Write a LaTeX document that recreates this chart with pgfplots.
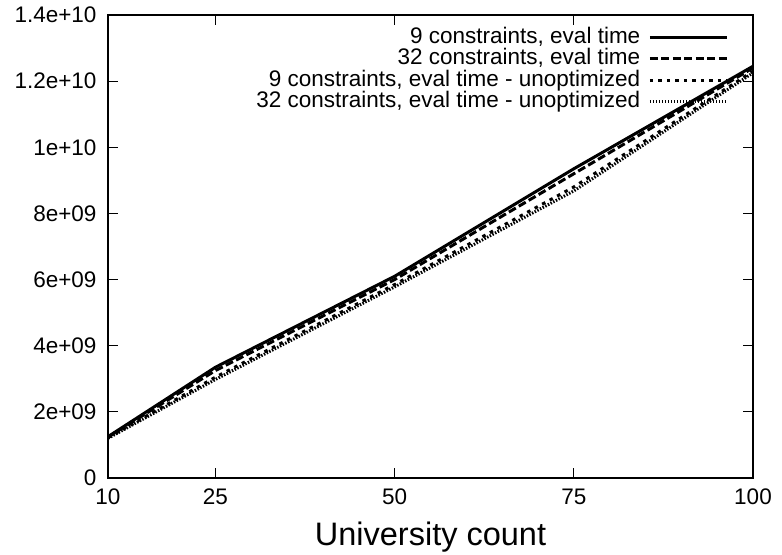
\documentclass[border=0pt]{standalone}
\usepackage{fontspec}
\setmainfont{Liberation Sans}
\usepackage{pgfplots}
\pgfplotsset{compat=1.18}
\pgfplotsset{
  gp legend/.style={legend image code/.code={\draw[##1] (0pt,0pt) -- (77pt,0pt);}},
}
\begin{document}
\begin{tikzpicture}
\begin{axis}[
  scale only axis, width=645pt, height=463pt,
  xmin=10, xmax=100, ymin=0, ymax=1.4e10,
  xtick={10,25,50,75,100}, xticklabels={10,25,50,75,100},
  ytick={0,2e9,4e9,6e9,8e9,1e10,1.2e10,1.4e10},
  yticklabels={0,2e+09,4e+09,6e+09,8e+09,1e+10,1.2e+10,1.4e+10},
  scaled y ticks=false,
  tick label style={font=\fontsize{22.5}{24}\selectfont},
  xticklabel style={yshift=-7.5pt},
  yticklabel style={xshift=-8pt},
  xlabel={University count},
  xlabel style={font=\fontsize{32.5}{34}\selectfont, at={(axis description cs:0.5,0)}, anchor=base, yshift=-67pt},
  axis line style={line width=1.5pt},
  major tick style={line width=1pt, black}, major tick length=10pt,
  gp legend,
  legend cell align=right, legend plot pos=right,
  legend style={draw=none, fill=none, at={(axis description cs:0.962,0.974)}, anchor=north east,
    inner sep=0pt, font=\fontsize{22.5}{24}\selectfont,
    nodes={inner xsep=3pt, inner ysep=0pt, text height=16pt, text depth=4.7pt},
    column sep=5pt, row sep=0.7pt},
]
\addplot[black, line width=3pt] coordinates {(10,1.25e9) (25,3.35e9) (50,6.1e9) (75,9.35e9) (100,1.245e10)};
\addlegendentry{9 constraints, eval time}
\addplot[black, line width=3pt, dash pattern=on 8pt off 3.5pt] coordinates {(10,1.24e9) (25,3.25e9) (50,6.0e9) (75,9.2e9) (100,1.24e10)};
\addlegendentry{32 constraints, eval time}
\addplot[black, line width=3pt, dash pattern=on 3.5pt off 5pt] coordinates {(10,1.22e9) (25,3.05e9) (50,5.85e9) (75,8.8e9) (100,1.23e10)};
\addlegendentry{9 constraints, eval time - unoptimized}
\addplot[black, line width=3pt, dash pattern=on 1.5pt off 1.5pt] coordinates {(10,1.2e9) (25,2.98e9) (50,5.78e9) (75,8.68e9) (100,1.225e10)};
\addlegendentry{32 constraints, eval time - unoptimized}
\end{axis}
\pgfresetboundingbox
\path ([xshift=-108pt,yshift=-77pt]current axis.south west) rectangle ([xshift=29pt,yshift=15pt]current axis.north east);
\end{tikzpicture}
\end{document}
